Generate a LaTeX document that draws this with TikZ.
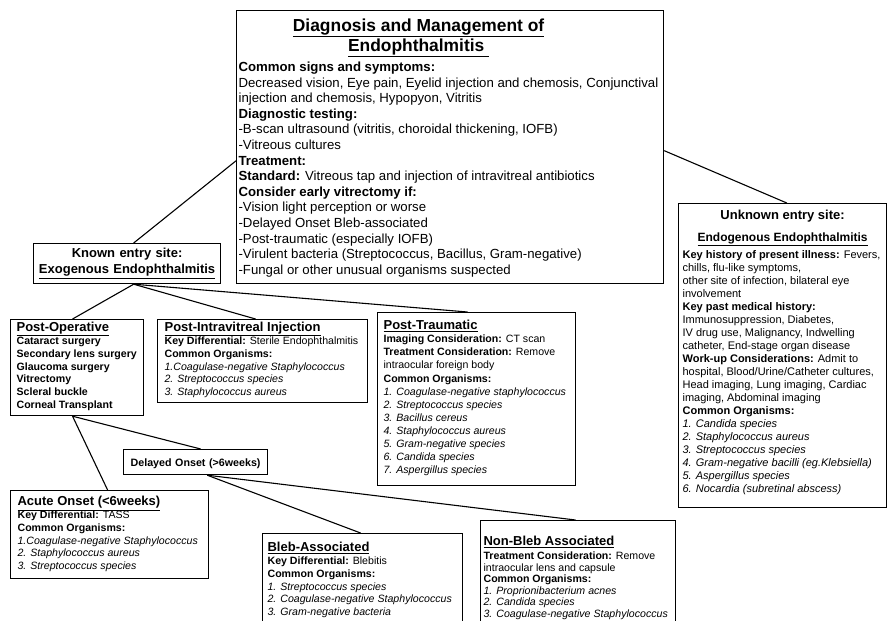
\documentclass[tikz,border=0pt]{standalone}
\usepackage{fontspec}
\setmainfont{Liberation Sans}
\usetikzlibrary{calc}

\newcommand{\boxtitle}[1]{{\fontsize{13}{15}\selectfont\bfseries\underline{#1}}}

\begin{document}
\begin{tikzpicture}[
    x=1pt, y=-1pt,
    box/.style={rectangle, draw=black, line width=1.2pt, anchor=north west,
                inner ysep=0pt, align=flush left,
                font=\fontsize{10.6}{12.8}\selectfont},
    line/.style={line width=1.1pt}
]
\useasboundingbox (0,0) rectangle (887,621);
\clip (0,0) rectangle (887,621);

% Main box
\node[box, inner xsep=2pt, text width=423pt, text height=21pt, text depth=252pt,
      font=\fontsize{13.2}{15.6}\selectfont] (main) at (236,10) {%
  {\centering\fontsize{17.4}{20}\selectfont\bfseries
   \underline{Diagnosis and Management of}\rule{63pt}{0pt}\\
   \underline{Endophthalmitis\ }\rule{63pt}{0pt}\par}
  \vspace{4.4pt}
  \textbf{Common signs and symptoms:}\\
  Decreased vision, Eye pain, Eyelid injection and chemosis, Conjunctival\\
  injection and chemosis, Hypopyon, Vitritis\\
  \textbf{Diagnostic testing:}\\
  -B-scan ultrasound (vitritis, choroidal thickening, IOFB)\\
  -Vitreous cultures\\
  \textbf{Treatment:}\\
  \textbf{Standard:} Vitreous tap and injection of intravitreal antibiotics\\
  \textbf{Consider early vitrectomy if:}\\
  -Vision light perception or worse\\
  -Delayed Onset Bleb-associated\\
  -Post-traumatic (especially IOFB)\\
  -Virulent bacteria (Streptococcus, Bacillus, Gram-negative)\\
  -Fungal or other unusual organisms suspected};

% Known entry site
\node[box, align=center, inner xsep=2pt, text width=183pt, text height=14pt,
      text depth=26pt, font=\fontsize{13}{16}\selectfont\bfseries] (known) at (33,243)
    {Known entry site:\\ \underline{Exogenous Endophthalmitis}};

% Unknown entry site
\node[box, inner xsep=4pt, text width=200pt, text height=16pt, text depth=288pt,
      font=\fontsize{11}{13}\selectfont] (unknown) at (678,203) {%
  {\centering\bfseries\fontsize{13}{22}\selectfont Unknown entry site:\\
   \fontsize{12}{22}\selectfont\underline{Endogenous Endophthalmitis}\par}
  \vspace{4pt}
  \textbf{Key history of present illness:} Fevers,\\
  chills, flu-like symptoms,\\
  other site of infection, bilateral eye\\
  involvement\\
  \textbf{Key past medical history:}\\
  Immunosuppression, Diabetes,\\
  IV drug use, Malignancy, Indwelling\\
  catheter, End-stage organ disease\\
  \textbf{Work-up Considerations:} Admit to\\
  hospital, Blood/Urine/Catheter cultures,\\
  Head imaging, Lung imaging, Cardiac\\
  imaging, Abdominal imaging\\
  \textbf{Common Organisms:}\\
  \textit{1. Candida species}\\
  \textit{2. Staphylococcus aureus}\\
  \textit{3. Streptococcus species}\\
  \textit{4. Gram-negative bacilli (eg.Klebsiella)}\\
  \textit{5. Aspergillus species}\\
  \textit{6. Nocardia (subretinal abscess)}};

% Post-Operative
\node[box, inner xsep=6pt, text width=121pt, text height=12pt, text depth=84pt]
    (postop) at (10,319) {%
  \boxtitle{Post-Operative}\\
  \textbf{Cataract surgery}\\
  \textbf{Secondary lens surgery}\\
  \textbf{Glaucoma surgery}\\
  \textbf{Vitrectomy}\\
  \textbf{Scleral buckle}\\
  \textbf{Corneal Transplant}};

% Post-Intravitreal Injection
\node[box, inner xsep=7pt, text width=196pt, text height=12pt, text depth=71pt]
    (postinj) at (157,319) {%
  \boxtitle{Post-Intravitreal Injection}\\
  \textbf{Key Differential:} Sterile Endophthalmitis\\
  \textbf{Common Organisms:}\\
  \textit{1.Coagulase-negative Staphylococcus}\\
  \textit{2. Streptococcus species}\\
  \textit{3. Staphylococcus aureus}};

% Post-Traumatic
\node[box, inner xsep=6pt, text width=186pt, text height=17pt, text depth=156pt,
      font=\fontsize{10.6}{13.1}\selectfont] (trauma) at (377,312) {%
  \boxtitle{Post-Traumatic}\\
  \textbf{Imaging Consideration:} CT scan\\
  \textbf{Treatment Consideration:} Remove\\
  intraocular foreign body\\
  \textbf{Common Organisms:}\\
  \textit{1. Coagulase-negative staphylococcus}\\
  \textit{2. Streptococcus species}\\
  \textit{3. Bacillus cereus}\\
  \textit{4. Staphylococcus aureus}\\
  \textit{5. Gram-negative species}\\
  \textit{6. Candida species}\\
  \textit{7. Aspergillus species}};

% Delayed onset
\node[box, align=center, inner xsep=2pt, text width=140pt, text height=17pt,
      text depth=8pt, font=\fontsize{10.7}{13}\selectfont\bfseries] (delayed) at (123,449)
    {Delayed Onset (>6weeks)};

% Acute onset
\node[box, inner xsep=7pt, text width=184pt, text height=15pt, text depth=73pt]
    (acute) at (10,490) {%
  \boxtitle{Acute Onset (<6weeks)}\\
  \textbf{Key Differential:} TASS\\
  \textbf{Common Organisms:}\\
  \textit{1.Coagulase-negative Staphylococcus}\\
  \textit{2. Staphylococcus aureus}\\
  \textit{3. Streptococcus species}};

% Bleb-Associated
\node[box, inner xsep=5pt, text width=190pt, text height=18pt, text depth=100pt]
    (bleb) at (262,533) {%
  \boxtitle{Bleb-Associated}\\
  \textbf{Key Differential:} Blebitis\\
  \textbf{Common Organisms:}\\
  \textit{1. Streptococcus species}\\
  \textit{2. Coagulase-negative Staphylococcus}\\
  \textit{3. Gram-negative bacteria}};

% Non-Bleb Associated
\node[box, inner xsep=3pt, text width=189pt, text height=25pt, text depth=100pt,
      font=\fontsize{10.6}{11.5}\selectfont] (nonbleb) at (480,520) {%
  \boxtitle{Non-Bleb Associated}\\[2.5pt]
  \textbf{Treatment Consideration:} Remove\\
  intraocular lens and capsule\\
  \textbf{Common Organisms:}\\
  \textit{1. Proprionibacterium acnes}\\
  \textit{2. Candida species}\\
  \textit{3. Coagulase-negative Staphylococcus}};

% Lines
\coordinate (kb) at ($(known.south west)!0.535!(known.south east)$);
\coordinate (pb) at ($(postop.south west)!0.466!(postop.south east)$);
\coordinate (db) at ($(delayed.south west)!0.58!(delayed.south east)$);
\draw[line] ($(main.north west)!0.55!(main.south west)$) -- ($(known.north west)!0.535!(known.north east)$);
\draw[line] ($(main.north east)!0.513!(main.south east)$) -- ($(unknown.north west)!0.52!(unknown.north east)$);
\draw[line] (kb) -- ($(postop.north west)!0.466!(postop.north east)$);
\draw[line] (kb) -- ($(postinj.north west)!0.467!(postinj.north east)$);
\draw[line] (kb) -- ($(trauma.north west)!0.455!(trauma.north east)$);
\draw[line] (pb) -- ($(acute.north west)!0.49!(acute.north east)$);
\draw[line] (pb) -- ($(delayed.north west)!0.535!(delayed.north east)$);
\draw[line] (db) -- ($(bleb.north west)!0.49!(bleb.north east)$);
\draw[line] (db) -- ($(nonbleb.north west)!0.487!(nonbleb.north east)$);

\end{tikzpicture}
\end{document}
